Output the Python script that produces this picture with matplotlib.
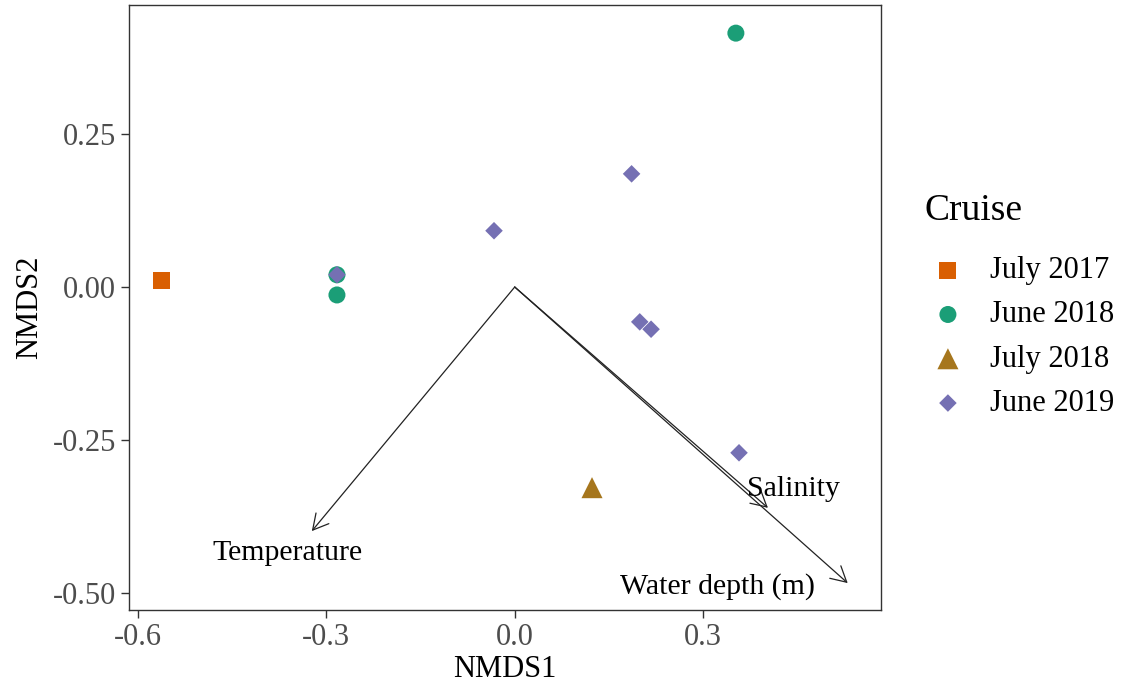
import numpy as np
import matplotlib
matplotlib.use('Agg')
import matplotlib.pyplot as plt

plt.rcParams['font.family'] = ['Liberation Serif', 'DejaVu Serif']

# site scores per cruise
cruises = ['July 2017', 'June 2018', 'July 2018', 'June 2019']
colors = ['#D95F02', '#1B9E77', '#A6761D', '#7570B3']
markers = ['s', 'o', '^', 'D']
sizes = [150, 150, 230, 80]

nmds1 = {
    'July 2017': [-0.562],
    'June 2018': [0.352, -0.283, -0.283],
    'July 2018': [0.123],
    'June 2019': [0.186, -0.033, -0.283, 0.199, 0.217, 0.357],
}
nmds2 = {
    'July 2017': [0.010],
    'June 2018': [0.415, 0.020, -0.013],
    'July 2018': [-0.328],
    'June 2019': [0.185, 0.092, 0.020, -0.057, -0.069, -0.271],
}

# environmental fit vectors
env_names = ['Temperature', 'Salinity', 'Water depth (m)']
env_x = [-0.323, 0.403, 0.530]
env_y = [-0.399, -0.361, -0.484]
lab_x = [-0.361, 0.443, 0.323]
lab_y = [-0.435, -0.330, -0.490]

fig = plt.figure(figsize=(11.29, 6.90), dpi=100)
ax = fig.add_axes([129 / 1129, 80 / 690, 752 / 1129, 605 / 690])

for name, c, m, s in zip(cruises, colors, markers, sizes):
    ax.scatter(nmds1[name], nmds2[name], c=c, marker=m, s=s,
               edgecolors='none', label=name, zorder=3)

for i in range(len(env_names)):
    ax.annotate('', xy=(env_x[i], env_y[i]), xytext=(0, 0),
                arrowprops=dict(arrowstyle='->,head_length=1.1,head_width=0.6',
                                mutation_scale=10, color='#222222', lw=0.9,
                                shrinkA=0, shrinkB=0),
                zorder=2)
    ax.text(lab_x[i], lab_y[i], env_names[i], fontsize=21.5,
            ha='center', va='center', color='black', zorder=4)

ax.set_xlim(-0.614, 0.583)
ax.set_ylim(-0.528, 0.461)
ax.set_xticks([-0.6, -0.3, 0.0, 0.3])
ax.set_xticklabels(['-0.6', '-0.3', '0.0', '0.3'])
ax.set_yticks([-0.50, -0.25, 0.00, 0.25])
ax.set_yticklabels(['-0.50', '-0.25', '0.00', '0.25'])
ax.tick_params(labelsize=22, colors='#333333', labelcolor='#4D4D4D',
               length=6, width=1)
for sp in ax.spines.values():
    sp.set_color('#333333')
    sp.set_linewidth(1)

ax.set_xlabel('NMDS1', fontsize=22, labelpad=2)
ax.set_ylabel('NMDS2', fontsize=22, labelpad=6)

leg = fig.legend(title='Cruise', loc='center left',
                 bbox_to_anchor=(925 / 1129, 1 - 306 / 690),
                 frameon=False, fontsize=22, title_fontsize=27,
                 labelspacing=0.5, handletextpad=0.64, handlelength=1.5,
                 borderaxespad=0, borderpad=0)
leg._legend_box.align = 'left'
leg._legend_box.sep = 20

fig.savefig('out.png', dpi=100)
